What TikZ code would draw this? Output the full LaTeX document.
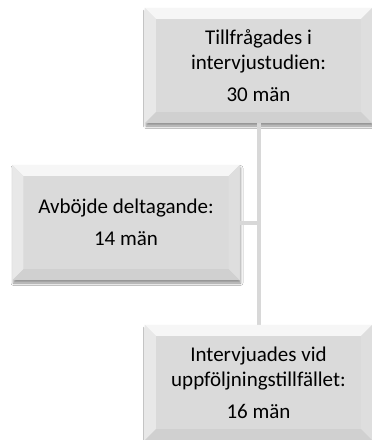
\documentclass[tikz,border=0pt]{standalone}
\usepackage{fontspec}
\setmainfont{Carlito}
\usetikzlibrary{shadows.blur}
\definecolor{boxfill}{HTML}{DADADA}
\definecolor{bevtop}{HTML}{F6F6F6}
\definecolor{bevleft}{HTML}{E8E8E8}
\definecolor{bevright}{HTML}{DEDEDE}
\definecolor{bevbot}{HTML}{D0D0D0}
\definecolor{linkgray}{HTML}{D8D8D8}
\tikzset{
  x=1pt,y=1pt,
  bevbox/.style={rectangle, fill=boxfill, minimum width=227pt, minimum height=115pt,
    inner sep=0pt, align=center, text=black,
    blur shadow={shadow xshift=1pt, shadow yshift=-3pt, shadow blur radius=2.5pt, shadow opacity=45}},
  boxtext/.style={align=center, text=black, font=\fontsize{21}{25.5}\selectfont},
  link/.style={draw=linkgray, line width=4pt},
}
\begin{document}
\begin{tikzpicture}
\fill[white] (0,0) rectangle (372,-440);
\useasboundingbox (0,0) rectangle (372,-440);
\path (258.5,-65.5) coordinate (topc) (126,-222.5) coordinate (leftc) (258.5,-382.5) coordinate (botc);
\node[bevbox] (top) at (topc) {};
\node[bevbox] (left) at (leftc) {};
\node[bevbox] (bot) at (botc) {};
\draw[link] (top.south) -- (bot.north);
\draw[link] (left.east) -- (left.east -| top.south);
\foreach \n in {top,left,bot}{
  \fill[bevtop] (\n.north west) -- (\n.north east) -- ([shift={(-11pt,-11pt)}]\n.north east) -- ([shift={(11pt,-11pt)}]\n.north west) -- cycle;
  \fill[bevleft] (\n.north west) -- ([shift={(11pt,-11pt)}]\n.north west) -- ([shift={(11pt,11pt)}]\n.south west) -- (\n.south west) -- cycle;
  \fill[bevright] (\n.north east) -- ([shift={(-11pt,-11pt)}]\n.north east) -- ([shift={(-11pt,11pt)}]\n.south east) -- (\n.south east) -- cycle;
  \fill[bevbot] (\n.south west) -- ([shift={(11pt,11pt)}]\n.south west) -- ([shift={(-11pt,11pt)}]\n.south east) -- (\n.south east) -- cycle;
}
\node[boxtext] (toptext) at (top.center) {Tillfrågades i\\intervjustudien:\\[6pt]30 män};
\node[boxtext] (lefttext) at (left.center) {Avböjde deltagande:\\[6pt]14 män};
\node[boxtext] (bottext) at (bot.center) {Intervjuades vid\\uppföljningstillfället:\\[6pt]16 män};
\end{tikzpicture}
\end{document}
